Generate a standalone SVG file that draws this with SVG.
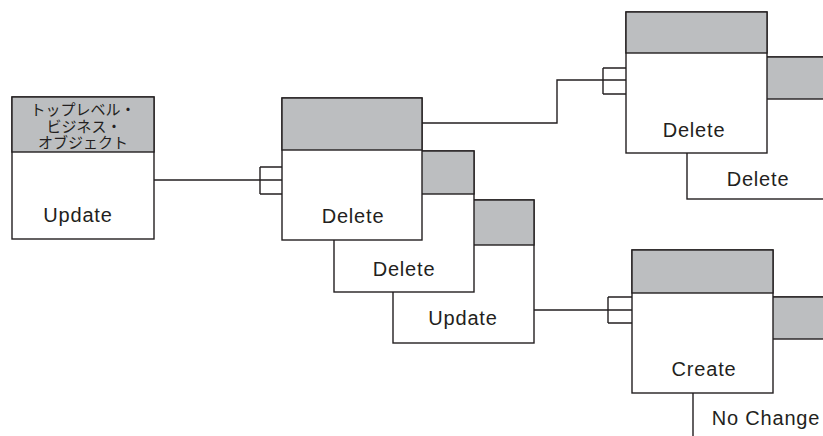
<svg xmlns="http://www.w3.org/2000/svg" width="823" height="436" viewBox="0 0 823 436">
<style>
.box{fill:#ffffff;stroke:#231f20;stroke-width:1.4}
.hdr{fill:#bcbec0;stroke:#231f20;stroke-width:1.4}
.lbl{font-family:"Liberation Sans",Arial,sans-serif;font-size:20px;letter-spacing:0.8px;fill:#231f20;text-anchor:middle}
.jp{font-family:"Noto Sans CJK JP","Liberation Sans",sans-serif;font-size:15px;fill:#231f20;text-anchor:middle}
.con{fill:none;stroke:#231f20;stroke-width:1.4}
</style>
<rect width="823" height="436" fill="#ffffff"/>

<g id="top-level">
  <rect class="box" x="12" y="97" width="142" height="142"/>
  <rect class="hdr" x="12" y="97" width="142" height="55"/>
  <text class="jp" x="83" y="115">トップレベル・</text>
  <text class="jp" x="84" y="132">ビジネス・</text>
  <text class="jp" x="83" y="148">オブジェクト</text>
  <text class="lbl" x="78" y="222">Update</text>
</g>

<g id="update-mid">
  <rect class="box" x="393" y="200" width="141" height="143"/>
  <rect class="hdr" x="393" y="200" width="141" height="45"/>
  <text class="lbl" x="463" y="325">Update</text>
</g>

<g id="delete-mid">
  <rect class="box" x="334" y="151" width="140" height="141"/>
  <rect class="hdr" x="334" y="151" width="140" height="43"/>
  <text class="lbl" x="404" y="276">Delete</text>
</g>

<g id="delete-front">
  <rect class="box" x="282" y="98" width="140" height="142"/>
  <rect class="hdr" x="282" y="98" width="140" height="52"/>
  <text class="lbl" x="353" y="223">Delete</text>
</g>

<g id="delete-tr-back">
  <rect class="box" x="687" y="57" width="160" height="142"/>
  <rect class="hdr" x="687" y="57" width="160" height="42"/>
  <text class="lbl" x="758" y="186">Delete</text>
</g>

<g id="delete-tr-front">
  <rect class="box" x="626" y="12" width="141" height="141"/>
  <rect class="hdr" x="626" y="12" width="141" height="41"/>
  <text class="lbl" x="694" y="137">Delete</text>
</g>

<g id="nochange-back">
  <rect class="box" x="693" y="297" width="160" height="160"/>
  <rect class="hdr" x="693" y="297" width="160" height="42"/>
  <text class="lbl" x="766" y="425">No Change</text>
</g>

<g id="create-front">
  <rect class="box" x="632" y="250" width="141" height="143"/>
  <rect class="hdr" x="632" y="250" width="141" height="43"/>
  <text class="lbl" x="704" y="376">Create</text>
</g>

<g id="connectors">
  <path class="con" d="M154 180 H282 M260 167 V194 M260 167 H282 M260 194 H282"/>
  <path class="con" d="M422 123 H557 V80 H626 M603 68 V94 M603 68 H626 M603 94 H626"/>
  <path class="con" d="M534 310 H632 M608 297 V323 M608 297 H632 M608 323 H632"/>
</g>
</svg>
